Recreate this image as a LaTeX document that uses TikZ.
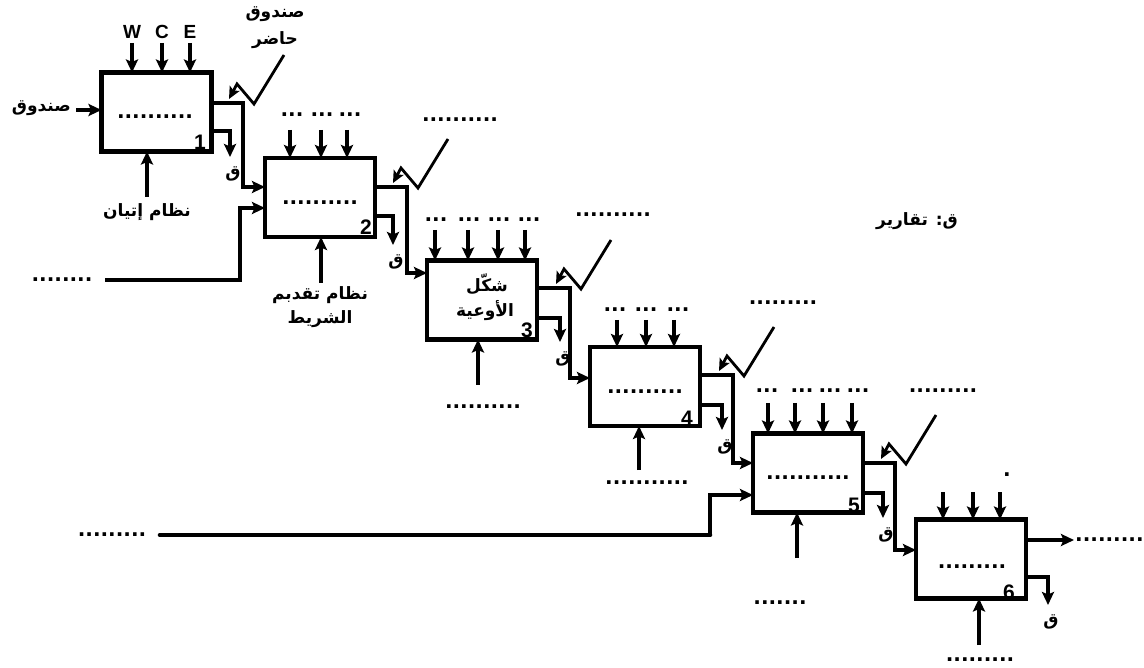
\documentclass[tikz,border=0pt]{standalone}
\usepackage{fontspec}
\setmainfont{Liberation Sans}
\newfontfamily\arfont[Script=Arabic]{DejaVu Sans}
\newfontfamily\djfont{DejaVu Sans}
\TeXXeTstate=1
\usetikzlibrary{arrows.meta,calc}
\newcommand\AR[1]{\beginR #1\endR}
\begin{document}
\begin{tikzpicture}[x=1pt,y=-1pt,
  box/.style={draw, line width=4.5pt, minimum width=110pt, minimum height=79pt, inner sep=0pt, outer sep=0pt},
  arr/.style={line width=3.4pt, -{Stealth[length=13pt,width=12pt,inset=2.5pt]}},
  zig/.style={line width=2.8pt, -{Stealth[length=12pt,width=11pt,inset=2.5pt]}},
  ar/.style={font=\arfont\bfseries\fontsize{17}{19}\selectfont, inner sep=0pt},
  dt/.style={font=\djfont\bfseries\fontsize{20}{20}\selectfont, inner sep=0pt},
  num/.style={font=\bfseries\fontsize{21}{21}\selectfont, inner sep=0pt},
  lat/.style={font=\bfseries\fontsize{19}{19}\selectfont, inner sep=0pt}]
\useasboundingbox (0,0) rectangle (1144,668);

% ---------- box 1
\node[box] (b1) at (156.5,112) {};
\node[dt] (b1t) at (155,117) {..........};
\node[num] (n1) at (200,142) {1};
\foreach \x/\l in {132/W,162/C,190/E}{
  \coordinate (t) at (\x,43);
  \node[lat] at (\x,32) {\l};
  \draw[arr] (t) -- (t |- b1.north);}
\coordinate (i1) at (76,110);
\draw[arr] (i1) -- (i1 -| b1.west);
\node[ar, anchor=east] (l1) at (71,108) {\AR{صندوق}};
\coordinate (u1) at (147,197);
\draw[arr] (u1) -- (u1 |- b1.south);
\node[ar] (l2) at (147,212) {\AR{نظام إتيان}};
\node[ar] (l3) at (275,14) {\AR{صندوق}};
\node[ar] (l4) at (275,40) {\AR{حاضر}};

% ---------- box 2
\node[box] (b2) at (320,197.5) {};
\node[dt] (b2t) at (320,203) {..........};
\node[num] (n2) at (366,227) {2};
\foreach \x/\y in {290/292,321/322,347/350}{
  \coordinate (t) at (\x,130);
  \node[dt] at (\y,115) {...};
  \draw[arr] (t) -- (t |- b2.north);}
\coordinate (u2) at (321,283);
\draw[arr] (u2) -- (u2 |- b2.south);
\node[ar] (l5) at (320,295) {\AR{نظام تقدبم}};
\node[ar] (l6) at (320,319) {\AR{الشريط}};
\coordinate (s1) at (105,280);
\coordinate (s1b) at (240,280);
\coordinate (h2b) at (0,208);
\draw[arr] (s1) -- (s1b) |- (h2b -| b2.west);
\node[dt] (l7) at (62,280) {........};

% ---------- box 3
\node[box] (b3) at (482,300) {};
\node[ar] (b3ta) at (487,284) {\AR{شكّل}};
\node[ar] (b3tb) at (485,311) {\AR{الأوعية}};
\node[num] (n3) at (527,330) {3};
\foreach \x/\y in {435/436,468/469,498/499,525/529}{
  \coordinate (t) at (\x,230);
  \node[dt] at (\y,220) {...};
  \draw[arr] (t) -- (t |- b3.north);}
\coordinate (u3) at (478,385);
\draw[arr] (u3) -- (u3 |- b3.south);
\node[dt] (l8) at (483,407) {..........};

% ---------- box 4
\node[box] (b4) at (645,386.5) {};
\node[dt] (b4t) at (645,392) {..........};
\node[num] (n4) at (687,418) {4};
\foreach \x/\y in {617/615,646/646,674/678}{
  \coordinate (t) at (\x,320);
  \node[dt] at (\y,310) {...};
  \draw[arr] (t) -- (t |- b4.north);}
\coordinate (u4) at (639,470);
\draw[arr] (u4) -- (u4 |- b4.south);
\node[dt] (l9) at (647,483) {...........};

% ---------- box 5
\node[box] (b5) at (808,473) {};
\node[dt] (b5t) at (808,478) {...........};
\node[num] (n5) at (854,505) {5};
\foreach \x/\y in {768/767,795/802,823/830,852/858}{
  \coordinate (t) at (\x,403);
  \node[dt] at (\y,391) {...};
  \draw[arr] (t) -- (t |- b5.north);}
\coordinate (u5) at (797,558);
\draw[arr] (u5) -- (u5 |- b5.south);
\node[dt] (l10) at (780,603) {.......};
\coordinate (s2) at (160,535);
\coordinate (s2b) at (710,535);
\coordinate (h5b) at (0,495);
\draw[line width=4.6pt, line cap=round] (s2) -- (s2b);
\draw[arr] (s2b) |- (h5b -| b5.west);
\node[dt] (l11) at (112,535) {.........};

% ---------- box 6
\node[box] (b6) at (971,559) {};
\node[dt] (b6t) at (972,567) {.........};
\node[num] (n6) at (1009,592) {6};
\foreach \x in {943,973,1000}{
  \coordinate (t) at (\x,492);
  \draw[arr] (t) -- (t |- b6.north);}
\node[dt] (l12) at (1007,475) {.};
\coordinate (u6) at (979,645);
\draw[arr] (u6) -- (u6 |- b6.south);
\node[dt] (l13) at (980,660) {.........};
\coordinate (o6) at (1074,540);
\draw[arr] (o6 -| b6.east) -- (o6);
\node[dt, anchor=west] (l14) at (1075,540) {.........};

% ---------- flows between boxes
\coordinate (o1) at (243,103);  \coordinate (h2) at (0,187);
\coordinate (o2) at (407,187);  \coordinate (h3) at (0,273);
\coordinate (o3) at (570,288);  \coordinate (h4) at (0,378);
\coordinate (o4) at (733,375);  \coordinate (h5) at (0,463);
\coordinate (o5) at (895,463);  \coordinate (h6) at (0,550);
\draw[arr] (o1 -| b1.east) -- (o1) |- (h2 -| b2.west);
\draw[arr] (o2 -| b2.east) -- (o2) |- (h3 -| b3.west);
\draw[arr] (o3 -| b3.east) -- (o3) |- (h4 -| b4.west);
\draw[arr] (o4 -| b4.east) -- (o4) |- (h5 -| b5.west);
\draw[arr] (o5 -| b5.east) -- (o5) |- (h6 -| b6.west);
\foreach \o in {o1,o2,o3,o4,o5}
  \draw[zig] ([shift={(41,-48)}]\o) -- ++(-30,49) -- ++(-17,-20) -- ++(-8,15);
\node[dt] (c2) at (460,120) {..........};
\node[dt] (c3) at (613,215) {..........};
\node[dt] (c4) at (783,303) {.........};
\node[dt] (c5) at (943,391) {.........};

% ---------- reports
\foreach \b/\x/\y/\e in {b1/230/131/157, b2/393/216/245, b3/560/318/342, b4/722/405/430, b5/883/493/518, b6/1048/577/605}{
  \coordinate (r) at (\x,\y);
  \coordinate (re) at (\x,\e);
  \draw[arr] (r -| \b.east) -- (r) -- (re);
  \node[ar] at (\x+3,\e+17) {\AR{ق}};}

\node[ar] (leg) at (917,221) {\AR{ق: تقارير}};
\end{tikzpicture}
\end{document}
